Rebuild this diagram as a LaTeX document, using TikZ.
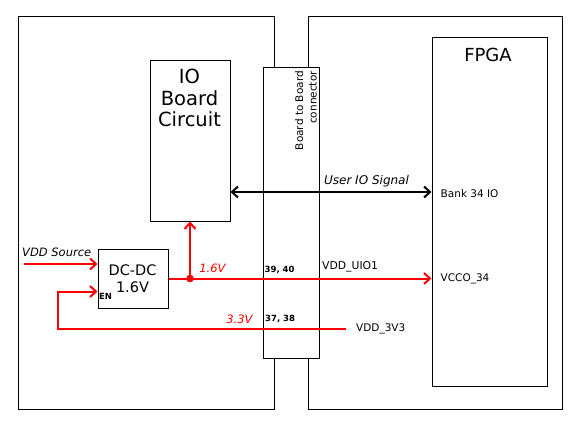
\documentclass[tikz,border=0pt]{standalone}
\usepackage{fontspec}
\setmainfont{DejaVu Sans}
\usetikzlibrary{arrows.meta}
\definecolor{pred}{RGB}{255,0,0}
\tikzset{
  box/.style={draw=black, line width=1pt, fill=white, inner sep=0pt, anchor=north west},
  redline/.style={draw=pred, line width=2pt},
  redarrow/.style={redline, -{Straight Barb[length=6pt,width=11pt,line width=2pt]}},
  blkarrow/.style={draw=black, line width=2pt, {Straight Barb[length=6pt,width=11pt,line width=2pt]}-{Straight Barb[length=6pt,width=11pt,line width=2pt]}},
  lbl/.style={inner sep=0pt, anchor=west, font=\fontsize{10.5}{12}\selectfont},
  pin/.style={inner sep=0pt, anchor=west, font=\fontsize{8.5}{10}\selectfont\bfseries},
  redlbl/.style={inner sep=0pt, text=pred, font=\fontsize{11.5}{13}\selectfont\itshape},
}
\begin{document}
\begin{tikzpicture}[x=1pt,y=-1pt]
\useasboundingbox (0,0) rectangle (580,430);
\fill[white] (0,0) rectangle (580,430);
% boards
\node[box, minimum width=256pt, minimum height=392pt] (lboard) at (17.5,16.5) {};
\node[box, minimum width=254pt, minimum height=392pt] (rboard) at (307.5,16.5) {};
% connector
\node[box, minimum width=56pt, minimum height=290pt] (conn) at (262.5,67.5) {};
\node[rotate=90, anchor=east, align=right, inner sep=0pt, font=\fontsize{10.5}{13.5}\selectfont] (conntxt) at (306,71) {Board to Board\\connector};
% FPGA
\node[box, minimum width=115pt, minimum height=348pt] (fpga) at (431.5,37.5) {};
\node[inner sep=0pt, font=\fontsize{18}{20}\selectfont] (fpgatxt) at (488,55) {FPGA};
% IO board circuit
\node[box, minimum width=80pt, minimum height=160pt] (io) at (149.5,60.5) {};
\node[inner sep=0pt, align=center, font=\fontsize{19.5}{21.5}\selectfont, anchor=north] (iotxt) at (189.5,69) {IO\\Board\\Circuit};
% DC-DC
\node[box, minimum width=70pt, minimum height=59pt] (dcdc) at (97.5,248.5) {};
\node[inner sep=0pt, align=center, font=\fontsize{14.5}{17.3}\selectfont] (dctxt) at (132.5,278.5) {DC-DC\\1.6V};
\node[pin, anchor=center] (en) at (105.5,296.5) {EN};
% coordinates
\coordinate (uioy) at (0,192);
\coordinate (vddin) at (24,264);
\coordinate (eny) at (0,291.5);
\coordinate (enx) at (57.5,328.5);
% labels
\node[lbl] (bank) at (440.5,194) {Bank 34 IO};
\node[lbl] (vcco) at (440.5,278.5) {VCCO\_34};
\node[lbl, font=\fontsize{10.8}{12}\selectfont] (uio1) at (322,266.5) {VDD\_UIO1};
\node[lbl] (v33) at (356,328.5) {VDD\_3V3};
\node[pin] (p3940) at (264.5,270) {39, 40};
\node[pin] (p3738) at (265,319) {37, 38};
\node[inner sep=0pt, font=\fontsize{12}{14}\selectfont\itshape] (uiotxt) at (366.5,181.5) {User IO Signal};
\node[inner sep=0pt, anchor=west, font=\fontsize{11.5}{13}\selectfont\itshape] (vddtxt) at (22,252.5) {VDD Source};
\node[redlbl] (l16) at (212.5,268.5) {1.6V};
\node[redlbl] (l33) at (239.5,319.5) {3.3V};
% connectors
\draw[blkarrow] (io.east |- uioy) -- (fpga.west |- uioy);
\coordinate (junc) at (io.south |- dcdc.east);
\draw[redarrow] (dcdc.east) -- (fpga.west |- dcdc.east);
\draw[redarrow] (junc) -- (io.south);
\fill[pred] (junc) circle (3.8pt);
\draw[redarrow] (vddin) -- (dcdc.west |- vddin);
\draw[redarrow] ([xshift=-10pt]v33.west) -- (enx) |- (dcdc.west |- eny);
\end{tikzpicture}
\end{document}
